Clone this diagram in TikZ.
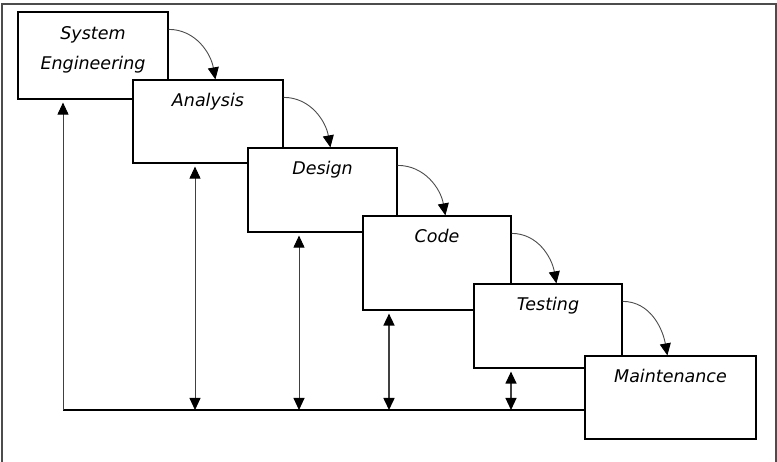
\documentclass[tikz,border=0pt]{standalone}
\usepackage{fontspec}
\newfontfamily\stagefont{DejaVu Sans}
\usetikzlibrary{arrows.meta}

\begin{document}
\begin{tikzpicture}[x=1pt,y=1pt,
  tip/.tip={Triangle[length=12pt,width=11pt,color=black]},
  stage/.style={draw,fill=white,line width=1.2pt,inner sep=0pt},
  stagetext/.style={font=\stagefont\itshape\fontsize{17.5}{30}\selectfont,inner sep=0pt},
  stagename/.style={stagetext,anchor=base,yshift=-27pt},
  flow/.style={draw=black!70,line width=0.9pt,-tip},
  feedback/.style={draw=black!75,tip-tip,shorten <=3pt}]
  \useasboundingbox (0,0) rectangle (777,462);
  \draw[line width=1.5pt,draw=black!70] (2,0) -- (2,458) -- (776,458) -- (776,0);

  \node[stage,minimum width=150pt,minimum height=87pt,
    label={[stagetext,align=center,anchor=north,yshift=-15pt]north:System\\Engineering}] (se) at (93,406.5) {};
  \node[stage,minimum width=150pt,minimum height=83pt,label={[stagename]north:Analysis}] (ana) at (208,340.5) {};
  \node[stage,minimum width=149pt,minimum height=84pt,label={[stagename]north:Design}] (des) at (322.5,272) {};
  \node[stage,minimum width=148pt,minimum height=94pt,label={[stagename]north:Code}] (code) at (437,199) {};
  \node[stage,minimum width=148pt,minimum height=84pt,label={[stagename]north:Testing}] (test) at (548,136) {};
  \node[stage,minimum width=171pt,minimum height=83pt,label={[stagename]north:Maintenance}] (maint) at (670.5,64.5) {};

  \foreach \a/\b in {se/ana,ana/des,des/code,code/test,test/maint}
    \draw[flow] ([yshift=-18pt]\a.north east) to[out=0,in=100] ([xshift=83pt]\b.north west);

  \coordinate (base) at (63,52);
  \draw[line width=2pt] (base) -- (base -| maint.west);
  \draw[draw=black!75,line width=0.9pt,-tip,shorten >=3pt] (base) -- (base |- se.south);
  \foreach \n/\dx/\w in {ana/-13/0.9,des/-23.5/0.9,code/-48/1.6,test/-37/1.2}{
    \path ([xshift=\dx pt]\n.south) coordinate (fb\n);
    \draw[feedback,line width=\w pt] (fb\n) -- (fb\n |- base);
  }
\end{tikzpicture}
\end{document}
